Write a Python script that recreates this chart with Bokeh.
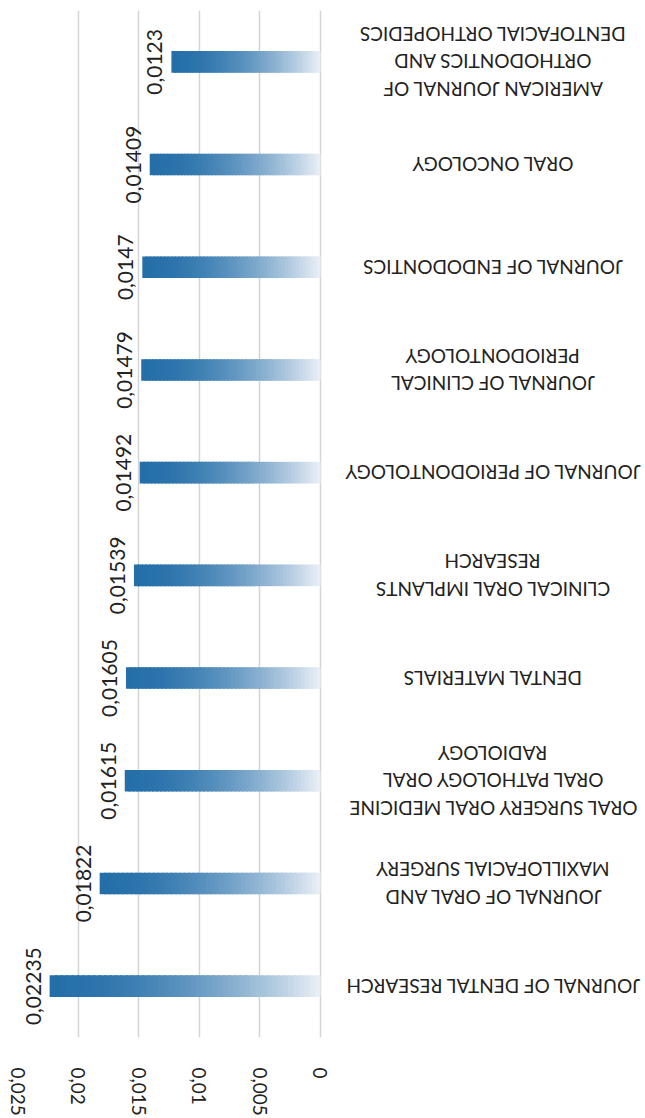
import math
from bokeh.plotting import figure
from bokeh.models import ColumnDataSource, FactorRange, Range1d, FixedTicker
from bokeh.core.properties import value
from bokeh.embed import file_html
from bokeh.resources import INLINE

# ---- data ----
categories = [
    "JOURNAL OF DENTAL RESEARCH",
    "JOURNAL OF ORAL AND\nMAXILLOFACIAL SURGERY",
    "ORAL SURGERY ORAL MEDICINE\nORAL PATHOLOGY ORAL\nRADIOLOGY",
    "DENTAL MATERIALS",
    "CLINICAL ORAL IMPLANTS\nRESEARCH",
    "JOURNAL OF PERIODONTOLOGY",
    "JOURNAL OF CLINICAL\nPERIODONTOLOGY",
    "JOURNAL OF ENDODONTICS",
    "ORAL ONCOLOGY",
    "AMERICAN JOURNAL OF\nORTHODONTICS AND\nDENTOFACIAL ORTHOPEDICS",
]
values = [0.02235, 0.01822, 0.01615, 0.01605, 0.01539, 0.01492, 0.01479, 0.0147, 0.01409, 0.0123]
tick_values = [0, 0.005, 0.01, 0.015, 0.02, 0.025]
tick_labels = ["0", "0,005", "0,01", "0,015", "0,02", "0,025"]

# ---- styles ----
FONT = "Lato"
DARK = (37, 111, 169)
LIGHT = (236, 240, 247)
N_SLICES = 50

p = figure(
    width=645, height=1118,
    x_range=Range1d(0.025, -0.02682),
    y_range=FactorRange(factors=categories, range_padding=0),
    output_backend="svg", toolbar_location=None,
    y_axis_location=None,
    min_border_left=17, min_border_right=0, min_border_top=10, min_border_bottom=77,
)
p.outline_line_color = None
p.ygrid.grid_line_color = None
p.xgrid.ticker = FixedTicker(ticks=tick_values)
p.xgrid.grid_line_color = "#d4d4d4"
p.xgrid.grid_line_width = 1.5

ax = p.xaxis[0]
ax.ticker = FixedTicker(ticks=tick_values)
ax.major_label_overrides = {t: l for t, l in zip(tick_values, tick_labels)}
ax.major_label_orientation = "vertical"
ax.axis_line_color = None
ax.major_tick_line_color = None
ax.minor_tick_line_color = None
ax.major_label_standoff = 24
ax.major_label_text_font = FONT
ax.major_label_text_font_size = "19px"
ax.major_label_text_color = "#222222"

# gradient bars: slices of each bar, each overlapping the next by half a slice
lefts, rights, ys, colors = [], [], [], []
for i in range(N_SLICES):
    t = (i + 0.5) / N_SLICES  # 0 at value end, 1 at zero end
    k = t ** 1.8
    c = tuple(int(round(DARK[j] + (LIGHT[j] - DARK[j]) * k)) for j in range(3))
    for cat, v in zip(categories, values):
        lefts.append(v * (1 - i / N_SLICES))
        rights.append(max(0.0, v * (1 - (i + 1.5) / N_SLICES)))
        ys.append(cat)
        colors.append("#%02x%02x%02x" % c)
bars = ColumnDataSource(dict(left=lefts, right=rights, y=ys, color=colors))
p.hbar(y="y", left="left", right="right", height=0.21, source=bars,
       fill_color="color", line_color=None)

# data labels
lab = ColumnDataSource(dict(x=values, y=categories,
                            t=[str(v).replace(".", ",") for v in values]))
p.text(x="x", y="y", text="t", source=lab, angle=math.pi / 2,
       text_align="center", text_baseline="bottom", x_offset=-9,
       text_font=value(FONT), text_font_size="21px", text_color="#222222")

# category labels (upside down, as in the reference)
cat_src = ColumnDataSource(dict(x=[-0.0142] * len(categories), y=categories, t=categories))
p.text(x="x", y="y", text="t", source=cat_src, angle=math.pi,
       text_align="center", text_baseline="middle", text_line_height=1.2,
       text_font=value(FONT), text_font_size="19px", text_color="#222222")

open("out.html", "w").write(file_html(p, INLINE))
